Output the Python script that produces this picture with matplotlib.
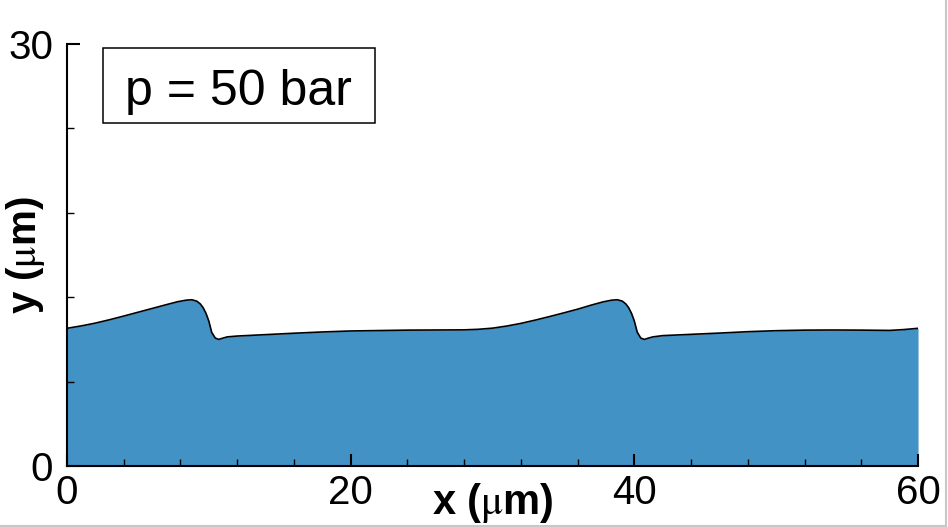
import matplotlib.pyplot as plt
from matplotlib.patches import Rectangle
from matplotlib.lines import Line2D
from matplotlib.ticker import MultipleLocator, FixedLocator

plt.rcParams['font.family'] = ['Liberation Sans', 'DejaVu Sans']
plt.rcParams['mathtext.fontset'] = 'stix'

# interface height y (um) along x (um)
x_pos = [0, 1, 2, 3, 4, 5, 6, 7, 7.8, 8.4, 8.8, 9.15, 9.4, 9.6, 9.8, 10.0, 10.2,
         10.45, 10.7, 10.95, 11.3, 12, 14, 16, 18, 20, 22, 24, 26, 28, 29,
         30, 31, 32, 33, 34, 35, 36, 37, 37.8, 38.4, 38.8, 39.15, 39.4, 39.6,
         39.8, 40.0, 40.2, 40.45, 40.7, 40.95, 41.3, 42, 44, 46, 48, 50, 52,
         54, 56, 58, 59, 60]
y_pos = [9.79, 9.96, 10.16, 10.4, 10.66, 10.93, 11.2, 11.47, 11.68, 11.79, 11.82,
         11.72, 11.52, 11.25, 10.85, 10.3, 9.5, 9.1, 9.0, 9.08, 9.18, 9.24, 9.34,
         9.44, 9.53, 9.6, 9.63, 9.66, 9.67, 9.68, 9.72,
         9.8, 9.95, 10.14, 10.37, 10.62, 10.88, 11.15, 11.45, 11.67, 11.79, 11.82,
         11.72, 11.52, 11.25, 10.85, 10.3, 9.52, 9.1, 9.0, 9.08, 9.18, 9.27, 9.36,
         9.45, 9.55, 9.62, 9.66, 9.67, 9.66, 9.64, 9.7, 9.79]

label = 'p = 50 bar'

fig = plt.figure(figsize=(9.48, 5.27), dpi=100)
ax = fig.add_axes([0.0707, 0.1157, 0.8977, 0.8008])

ax.fill_between(x_pos, 0, y_pos, color='#4292c6', lw=0, zorder=1)
ax.plot(x_pos, y_pos, color='black', lw=1.2, zorder=2)

ax.set_xlim(0, 60)
ax.set_ylim(0, 30)
ax.spines['top'].set_visible(False)
ax.spines['right'].set_visible(False)
for s in ['left', 'bottom']:
    ax.spines[s].set_linewidth(1.5)

ax.xaxis.set_major_locator(MultipleLocator(20))
ax.xaxis.set_minor_locator(MultipleLocator(4))
ax.yaxis.set_major_locator(FixedLocator([0, 30]))
ax.yaxis.set_minor_locator(MultipleLocator(6))
ax.tick_params(which='major', direction='in', length=9, width=1.5, labelsize=29)
ax.tick_params(which='minor', direction='in', length=5, width=1.0)
ax.tick_params(axis='x', which='major', pad=6)
ax.tick_params(axis='y', which='major', pad=10)

ax.set_xlabel(r'x ($\mathrm{\mu}$m)', fontsize=30, fontweight='bold')
ax.set_ylabel(r'y ($\mathrm{\mu}$m)', fontsize=29, fontweight='bold')
ax.xaxis.set_label_coords(0.5, -0.035)
ax.yaxis.set_label_coords(-0.024, 0.5)

ax.add_patch(Rectangle((0.0423, 0.8135), 0.3197, 0.1775, transform=ax.transAxes,
                       fill=False, ec='black', lw=1.1, clip_on=False, zorder=5))
ax.text(0.202, 0.886, label, transform=ax.transAxes, fontsize=36,
        ha='center', va='center', zorder=6)

# thin grey frame on the right and bottom edge of the image
fig.add_artist(Line2D([0, 0.998], [0.002, 0.002], transform=fig.transFigure,
                      color='#c8c8c8', lw=1.5))
fig.add_artist(Line2D([0.998, 0.998], [0.002, 1], transform=fig.transFigure,
                      color='#c8c8c8', lw=1.5))

fig.savefig('out.png', dpi=100)
